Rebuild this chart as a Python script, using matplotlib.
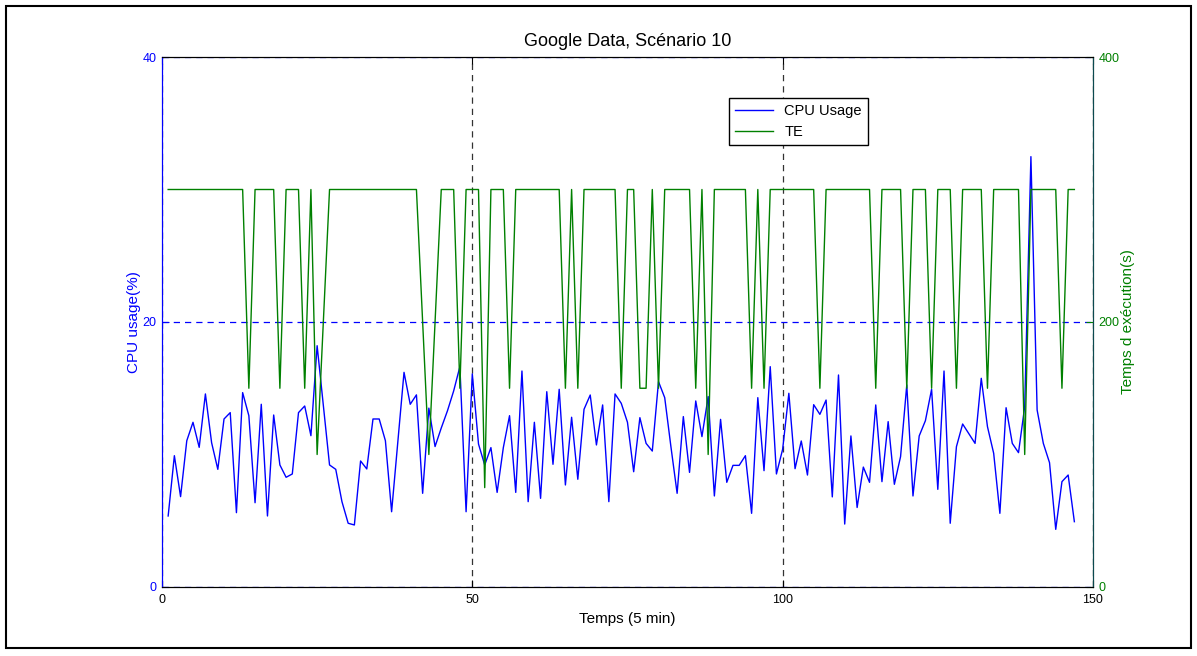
import matplotlib
matplotlib.use('Agg')
import matplotlib.pyplot as plt
from matplotlib.patches import Rectangle

plt.rcParams['font.family'] = ['Liberation Sans', 'DejaVu Sans']

# time steps (5 min), CPU usage (%) and execution time TE (s)
temps = list(range(1, 148))
cpu_usage = [5.36, 9.91, 6.82, 11.04, 12.43, 10.54, 14.57, 10.89, 8.88, 12.68,
             13.16, 5.61, 14.67, 12.93, 6.36, 13.79, 5.36, 12.98, 9.21, 8.28,
             8.53, 13.16, 13.66, 11.42, 18.21, 13.7, 9.21, 8.88, 6.44, 4.81,
             4.68, 9.51, 8.91, 12.68, 12.68, 11.04, 5.68, 10.9, 16.2, 13.79,
             14.5, 7.07, 13.5, 10.6, 12.0, 13.3, 14.8, 16.63, 5.68, 16.08,
             10.79, 9.21, 10.52, 7.14, 10.52, 12.93, 7.14, 16.3, 6.44, 12.43,
             6.69, 14.74, 9.26, 14.92, 7.7, 12.81, 8.13, 13.41, 14.49, 10.72,
             13.74, 6.44, 14.57, 13.86, 12.43, 8.70, 12.78, 10.84, 10.26, 15.5,
             14.29, 10.59, 7.07, 12.86, 8.65, 14.04, 11.35, 14.37, 6.87, 12.65,
             7.9, 9.18, 9.18, 9.91, 5.56, 14.29, 8.78, 16.63, 8.53, 10.39,
             14.62, 8.93, 11.02, 8.45, 13.76, 13.03, 14.11, 6.8, 16.0, 4.75,
             11.4, 6.0, 9.05, 7.9, 13.74, 7.95, 12.48, 7.75, 9.84, 15.25,
             6.87, 11.4, 12.55, 14.92, 7.37, 16.3, 4.81, 10.59, 12.3, 11.57,
             10.84, 15.75, 12.1, 10.09, 5.56, 13.53, 10.84, 10.14, 13.61, 32.48,
             13.36, 10.84, 9.38, 4.35, 7.95, 8.45, 4.93]
te = [300, 300, 300, 300, 300, 300, 300, 300, 300, 300,
      300, 300, 300, 150, 300, 300, 300, 300, 150, 300,
      300, 300, 150, 300, 100, 200, 300, 300, 300, 300,
      300, 300, 300, 300, 300, 300, 300, 300, 300, 300,
      300, 200, 100, 200, 300, 300, 300, 150, 300, 300,
      300, 75, 300, 300, 300, 150, 300, 300, 300, 300,
      300, 300, 300, 300, 150, 300, 150, 300, 300, 300,
      300, 300, 300, 150, 300, 300, 150, 150, 300, 150,
      300, 300, 300, 300, 300, 150, 300, 100, 300, 300,
      300, 300, 300, 300, 150, 300, 150, 300, 300, 300,
      300, 300, 300, 300, 300, 150, 300, 300, 300, 300,
      300, 300, 300, 300, 150, 300, 300, 300, 300, 150,
      300, 300, 300, 150, 300, 300, 300, 150, 300, 300,
      300, 300, 150, 300, 300, 300, 300, 300, 100, 300,
      300, 300, 300, 300, 150, 300, 300]

blue = '#0000ff'
green = '#008000'

fig = plt.figure(figsize=(11.97, 6.56), dpi=100)
ax = fig.add_axes([0.1353, 0.1052, 0.7778, 0.8079])
ax2 = ax.twinx()

l1, = ax.plot(temps, cpu_usage, color=blue, lw=1, label='CPU Usage')
l2, = ax2.plot(temps, te, color=green, lw=1, label='TE')

ax.set_xlim(0, 150)
ax.set_ylim(0, 40)
ax2.set_ylim(0, 400)
ax.set_xticks([0, 50, 100, 150])
ax.set_yticks([0, 20, 40])
ax2.set_yticks([0, 200, 400])

# grid: dashed, vertical black, horizontal blue
ax.xaxis.grid(True, ls=(0, (5, 4)), color='#333333', lw=0.9)
ax.yaxis.grid(True, ls=(0, (5, 4)), color=blue, lw=0.9)

ax.tick_params(axis='x', direction='in', length=5, labelsize=9, colors='k', pad=5, top=True)
ax.tick_params(axis='y', direction='in', length=5, labelsize=9, colors=blue, pad=4)
ax2.tick_params(axis='y', direction='in', length=5, labelsize=9, colors=green, pad=4)

ax.spines['left'].set_color(blue)
ax2.spines['left'].set_color(blue)
ax2.spines['right'].set_color('#0b4a4f')
for a in (ax, ax2):
    a.spines['top'].set_color('k')
    a.spines['bottom'].set_color('k')

ax.set_title('Google Data, Scénario 10', fontsize=13, pad=8)
ax.set_xlabel('Temps (5 min)', fontsize=11)
ax.xaxis.set_label_coords(0.5, -0.047)
ax.set_ylabel('CPU usage(%)', fontsize=11, color=blue)
ax.yaxis.set_label_coords(-0.0226, 0.5)
ax2.set_ylabel('Temps d exécution(s)', fontsize=11, color=green)
ax2.yaxis.set_label_coords(1.0296, 0.5)

leg = ax2.legend([l1, l2], ['CPU Usage', 'TE'], loc='upper left',
                 bbox_to_anchor=(0.609, 0.9226), fontsize=10.5, fancybox=False,
                 framealpha=1, edgecolor='k', handlelength=2.6,
                 borderaxespad=0)
leg.get_frame().set_linewidth(1.0)

fig.patches.append(Rectangle((0.005, 0.012), 0.99, 0.979, transform=fig.transFigure,
                             fill=False, lw=1.5, ec='k'))

fig.savefig('out.png', dpi=100)
